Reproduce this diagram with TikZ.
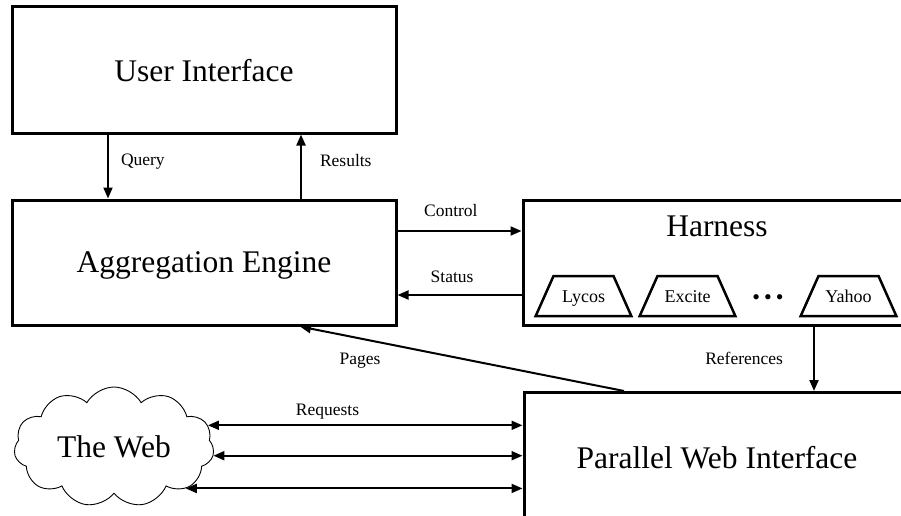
\documentclass[tikz,border=0pt]{standalone}
\usepackage{fontspec}
\setmainfont{Liberation Serif}
\usetikzlibrary{arrows.meta,shapes.geometric,shapes.symbols}
\tikzset{
  block/.style={draw, line width=3pt, inner sep=0pt, text depth=0pt,
    font=\fontsize{31.5}{36}\selectfont},
  engine/.style={draw, line width=2.5pt, trapezium, trapezium angle=66,
    text width=56pt, align=center, text height=12pt, text depth=0pt,
    inner xsep=2pt, inner ysep=14pt, font=\fontsize{18}{20}\selectfont},
  arr/.style={line width=2pt, -{Triangle[length=11pt,width=9pt]}},
  dblarr/.style={line width=2pt, {Triangle[length=11pt,width=9pt]}-{Triangle[length=11pt,width=9pt]}},
  lbl/.style={font=\fontsize{17.5}{20}\selectfont, inner sep=2pt}
}
\begin{document}
\begin{tikzpicture}[x=1pt,y=-1pt]
  \clip (0,0) rectangle (901,516);
  % boxes
  \node[block, minimum width=384pt, minimum height=126pt] (ui) at (204,70) {User Interface};
  \node[block, minimum width=384pt, minimum height=125pt] (agg) at (204,262.5) {Aggregation Engine};
  \node[block, minimum width=388pt, minimum height=124.5pt] (harness) at (717,263) {};
  \node[font=\fontsize{31.5}{36}\selectfont, inner sep=0pt, text depth=0pt] (harnesstitle) at (717,226.5) {Harness};
  \node[block, minimum width=386pt, minimum height=129pt] (pwi) at (717,457) {Parallel Web Interface};
  \node[draw, cloud, cloud puffs=11, cloud puff arc=120, aspect=1.7, line width=0.9pt,
    minimum width=200pt, minimum height=120pt, inner sep=0pt, text depth=0pt,
    font=\fontsize{31.5}{36}\selectfont] (web) at (114,447) {The Web};
  % search engines
  \node[engine] (lycos) at (583.5,296) {Lycos};
  \node[engine] (excite) at (687.5,296) {Excite};
  \node[font=\fontsize{22}{24}\selectfont, inner sep=0pt] (dots) at (768,300) {\textbullet\hspace{4pt}\textbullet\hspace{4pt}\textbullet};
  \node[engine] (yahoo) at (848.5,296) {Yahoo};
  % connectors
  \draw[arr] ([xshift=-96pt]ui.south) -- ([xshift=-96pt]agg.north) node[lbl, pos=0.43, right=10pt] {Query};
  \draw[arr] ([xshift=97pt]agg.north) -- ([xshift=97pt]ui.south) node[lbl, pos=0.6, right=16pt] {Results};
  \draw[arr] ([yshift=31.5pt]agg.east) -- ([yshift=31.5pt]agg.east -| harness.west) node[lbl, pos=0.43, above=11pt] {Control};
  \draw[arr] ([yshift=-32.5pt]agg.east -| harness.west) -- ([yshift=-32.5pt]agg.east) node[lbl, pos=0.56, above=9.5pt] {Status};
  \draw[arr] ([xshift=97pt]harness.south) -- ([xshift=97pt]pwi.north) node[lbl, midway, left=28pt] {References};
  \draw[arr] ([xshift=-93pt]pwi.north) -- ([xshift=96pt]agg.south) node[lbl, pos=0.815, below=12pt] {Pages};
  \draw[dblarr] (web.13) -- (web.13 -| pwi.west) node[lbl, pos=0.38, above=3pt] {Requests};
  \draw[dblarr] (web.-5) -- (web.-5 -| pwi.west);
  \draw[dblarr] (web.-30) -- (web.-30 -| pwi.west);
\end{tikzpicture}
\end{document}
